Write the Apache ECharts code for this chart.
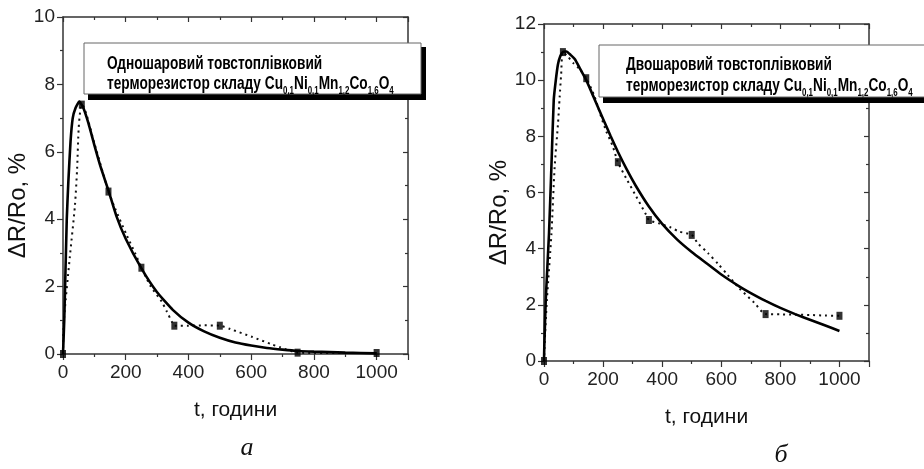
<!DOCTYPE html>
<html>
<head>
<meta charset="utf-8">
<script src="https://cdn.jsdelivr.net/npm/echarts@6/dist/echarts.min.js"></script>
<style>
html,body{margin:0;padding:0;background:#fff;}
#chart{width:924px;height:469px;}
</style>
</head>
<body>
<div id="chart"></div>
<script>
// ---------- DATA ----------
// Panel a: single-layer thick-film thermistor
const pointsA_t = [0, 60, 145, 250, 355, 500, 748, 1000];
const pointsA_v = [0, 7.4, 4.82, 2.56, 0.84, 0.84, 0.04, 0.03];
// dotted trace through the points (panel a)
const dottedA_t = [0, 3, 22, 38, 45, 50, 56, 60, 100, 145, 166, 203, 230, 250, 280, 315, 331, 347, 355, 400, 450, 500, 533, 602, 665, 692, 748, 800, 900, 1000];
const dottedA_v = [0, 1.0, 2.9, 4.4, 5.5, 6.7, 7.3, 7.4, 6.25, 4.82, 4.32, 3.53, 2.99, 2.56, 2.0, 1.55, 1.26, 0.96, 0.84, 0.84, 0.85, 0.84, 0.74, 0.51, 0.29, 0.2, 0.04, 0.03, 0.03, 0.03];
// solid fitted curve (panel a)
const fitA_t = [0, 4, 12, 17, 24, 31, 40, 52, 65, 81, 100, 120, 145, 170, 200, 250, 300, 350, 400, 450, 500, 550, 600, 650, 700, 750, 800, 900, 1000];
const fitA_v = [0, 1.0, 4.0, 5.1, 6.3, 7.0, 7.3, 7.49, 7.3, 6.85, 6.2, 5.55, 4.85, 4.1, 3.42, 2.54, 1.83, 1.31, 0.93, 0.67, 0.48, 0.34, 0.25, 0.18, 0.13, 0.09, 0.07, 0.04, 0.02];

// Panel б: double-layer thick-film thermistor
const pointsB_t = [0, 64, 143, 250, 355, 500, 750, 1000];
const pointsB_v = [0, 11.0, 10.07, 7.08, 5.02, 4.49, 1.67, 1.61];
const dottedB_t = [0, 3, 10, 25, 36, 47, 53, 58, 64, 80, 100, 120, 143, 171, 189, 210, 233, 250, 278, 312, 346, 355, 389, 430, 457, 500, 520, 555, 590, 622, 660, 713, 750, 800, 850, 900, 950, 1000];
const dottedB_v = [0, 0.8, 2.2, 4.5, 6.9, 8.4, 9.4, 10.2, 11.0, 10.85, 10.6, 10.4, 10.07, 9.42, 8.83, 8.2, 7.64, 7.08, 6.51, 5.86, 5.2, 5.02, 4.9, 4.75, 4.61, 4.49, 4.2, 3.84, 3.45, 3.06, 2.6, 2.06, 1.67, 1.66, 1.65, 1.64, 1.62, 1.61];
const fitB_t = [0, 1, 6, 17, 25, 33, 40, 47, 55, 64, 76, 90, 104, 120, 143, 170, 200, 225, 250, 280, 310, 355, 400, 450, 500, 550, 600, 662, 700, 750, 800, 850, 900, 950, 1000];
const fitB_v = [0, 0.5, 2.2, 4.55, 6.9, 9.3, 10.0, 10.55, 10.85, 11.0, 11.02, 10.9, 10.75, 10.45, 10.0, 9.35, 8.62, 8.02, 7.45, 6.82, 6.25, 5.5, 4.88, 4.33, 3.88, 3.48, 3.08, 2.65, 2.42, 2.14, 1.89, 1.67, 1.47, 1.27, 1.07];

// Axis ticks / labels
const xTicks = [0, 200, 400, 600, 800, 1000];
const xMax = 1100;
const yMaxA = 10, yMaxB = 12;
const xTitle = 't, години';
const yTitle = 'ΔR/Ro, %';
const boxA = ['Одношаровий товстоплівковий', 'терморезистор складу '];
const boxB = ['Двошаровий товстоплівковий', 'терморезистор складу '];
const formula = [['Cu', '0,1'], ['Ni', '0,1'], ['Mn', '1,2'], ['Co', '1,6'], ['O', '4']];
const panelLabels = ['а', 'б'];

// ---------- CHART ----------
const SANS = '"Liberation Sans", Arial, sans-serif';
const AX = '#333';
const zip = (a, b) => a.map((v, i) => [v, b[i]]);

function xAxes(gi) {
  const base = {
    type: 'value', gridIndex: gi, min: 0, max: xMax, interval: 200,
    splitLine: { show: false },
    axisLine: { show: true, onZero: false, lineStyle: { color: AX, width: 1.5 } },
    minorTick: { show: true, splitNumber: 2, length: 3, lineStyle: { color: AX, width: 1.2 } },
    axisTick: { show: true, length: 6, lineStyle: { color: AX, width: 1.2 } }
  };
  return [
    Object.assign({}, base, {
      position: 'bottom',
      axisTick: Object.assign({}, base.axisTick, { inside: false }),
      axisLabel: { show: true, margin: 9, fontFamily: SANS, fontSize: 19, color: '#222',
        formatter: v => (xTicks.indexOf(v) >= 0 ? String(v) : '') },
      name: xTitle, nameLocation: 'middle', nameGap: 46,
      nameTextStyle: { fontFamily: SANS, fontSize: 21, color: '#111' }
    }),
    Object.assign({}, base, {
      position: 'top',
      axisTick: Object.assign({}, base.axisTick, { inside: true, length: 5 }),
      axisLabel: { show: false }
    })
  ];
}
function yAxes(gi, ymax, gap) {
  const base = {
    type: 'value', gridIndex: gi, min: 0, max: ymax, interval: 2,
    splitLine: { show: false },
    axisLine: { show: true, onZero: false, lineStyle: { color: AX, width: 1.5 } },
    minorTick: { show: true, splitNumber: 2, length: 3, lineStyle: { color: AX, width: 1.2 } },
    axisTick: { show: true, length: 6, lineStyle: { color: AX, width: 1.2 } }
  };
  return [
    Object.assign({}, base, {
      position: 'left',
      axisTick: Object.assign({}, base.axisTick, { inside: false }),
      axisLabel: { show: true, margin: 8, fontFamily: SANS, fontSize: 19, color: '#222' },
      name: yTitle, nameLocation: 'middle', nameGap: gap, nameRotate: 90,
      nameTextStyle: { fontFamily: SANS, fontSize: 24, color: '#111', padding: [0, 40, 0, 0] }
    }),
    Object.assign({}, base, {
      position: 'right',
      axisTick: Object.assign({}, base.axisTick, { inside: true, length: 5 }),
      axisLabel: { show: false }
    })
  ];
}

function lineSeries(xi, yi, t, v, dotted) {
  return {
    type: 'line', xAxisIndex: xi, yAxisIndex: yi, data: zip(t, v),
    symbol: 'none', smooth: dotted ? 0.25 : 0.15, silent: true, animation: false,
    lineStyle: dotted ? { color: '#111', width: 2, type: [2, 4] } : { color: '#000', width: 2.6 },
    z: dotted ? 3 : 4
  };
}
function pointSeries(xi, yi, t, v) {
  return {
    type: 'scatter', xAxisIndex: xi, yAxisIndex: yi, data: zip(t, v),
    symbol: 'rect', symbolSize: [6, 8], itemStyle: { color: '#000' }, z: 5, animation: false, silent: true
  };
}

function formulaRich() {
  let s = '';
  formula.forEach(([el, sub]) => { s += '{m|' + el + '}{s|' + sub + '}'; });
  return s;
}
const richStyles = {
  m: { fontFamily: SANS, fontSize: 19, fontWeight: 'bold', lineHeight: 24, color: '#000', verticalAlign: 'top' },
  s: { fontFamily: SANS, fontSize: 11, fontWeight: 'bold', lineHeight: 4, color: '#000', verticalAlign: 'top', padding: [11, 0, 0, 0] }
};
function box(x, y, w, h, tx, base1, base2, lines) {
  return [
    { type: 'rect', shape: { x: x + 4, y: y + 4, width: w + 1, height: h + 2 }, style: { fill: '#000' }, z: 100 },
    { type: 'rect', shape: { x: x, y: y, width: w, height: h }, style: { fill: '#fff', stroke: '#666', lineWidth: 1 }, z: 101 },
    { type: 'text', x: tx, y: base1 - 11.5, scaleX: 0.72, z: 102,
      style: { text: '{m|' + lines[0] + '}', rich: richStyles, verticalAlign: 'top' } },
    { type: 'text', x: tx, y: base2 - 11.5, scaleX: 0.72, z: 102,
      style: { text: '{m|' + lines[1] + '}' + formulaRich(), rich: richStyles, verticalAlign: 'top' } }
  ];
}

const chart = echarts.init(document.getElementById('chart'), null, { renderer: 'canvas' });
const option = {
  backgroundColor: '#fff',
  animation: false,
  grid: [
    { left: 63, top: 17, width: 345, height: 337 },
    { left: 544, top: 24, width: 325, height: 337 }
  ],
  xAxis: xAxes(0).concat(xAxes(1)),
  yAxis: yAxes(0, yMaxA, 20).concat(yAxes(1, yMaxB, 20)),
  series: [
    lineSeries(0, 0, dottedA_t, dottedA_v, true),
    lineSeries(0, 0, fitA_t, fitA_v, false),
    pointSeries(0, 0, pointsA_t, pointsA_v),
    lineSeries(2, 2, dottedB_t, dottedB_v, true),
    lineSeries(2, 2, fitB_t, fitB_v, false),
    pointSeries(2, 2, pointsB_t, pointsB_v)
  ],
  graphic: box(84, 43, 337, 51, 107, 66, 86, boxA)
    .concat(box(599, 45, 340, 52, 626, 67, 88, boxB))
    .concat([
      { type: 'text', x: 247, y: 461, z: 10, style: { text: panelLabels[0], font: 'italic 26px "Liberation Serif", serif', fill: '#111', align: 'center', verticalAlign: 'bottom' } },
      { type: 'text', x: 781, y: 468, z: 10, style: { text: panelLabels[1], font: 'italic 26px "Liberation Serif", serif', fill: '#111', align: 'center', verticalAlign: 'bottom' } }
    ])
};
chart.setOption(option);
</script>
</body>
</html>
